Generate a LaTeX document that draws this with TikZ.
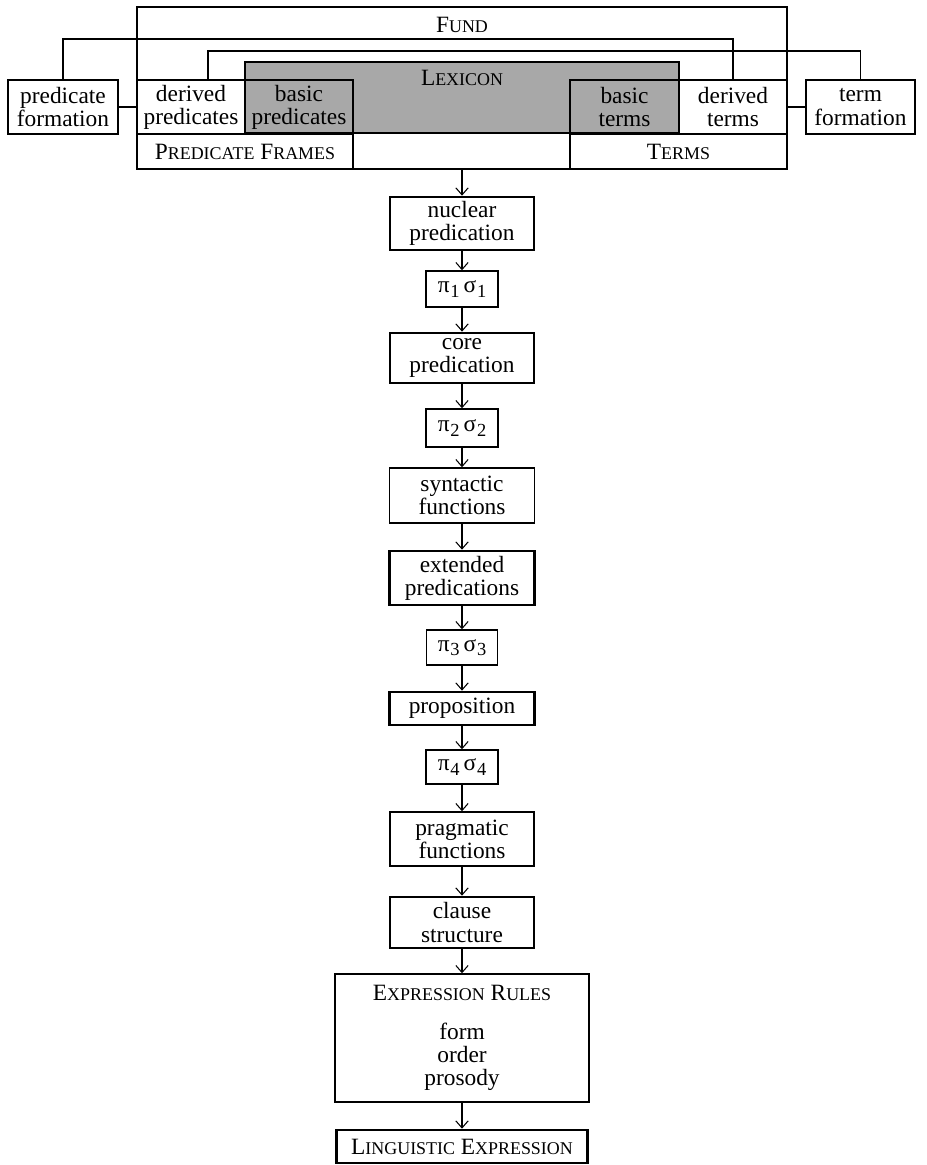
\documentclass[tikz,border=0pt]{standalone}
\usepackage{fontspec}
\setmainfont{Liberation Serif}
\usetikzlibrary{arrows.meta,calc}
\newcommand{\smc}[2]{#1{\fontsize{10.2}{10}\selectfont #2}}
\newcommand{\ps}[1]{π\kern0.5pt\raisebox{-0.4ex}{\fontsize{10.5}{10}\selectfont #1}\,σ\kern0.5pt\raisebox{-0.4ex}{\fontsize{10.5}{10}\selectfont #1}}

\begin{document}
\begin{tikzpicture}[x=0.02cm,y=-0.02cm,>={Straight Barb[length=4pt,width=7pt]},
  font=\fontsize{13.3}{13.2}\selectfont,
  wh/.style 2 args={minimum width=#1*0.02cm,minimum height=#2*0.02cm},
  box/.style={draw,inner sep=0pt,align=center,line width=0.8pt},
  bold/.style={box,line width=1.5pt},
  flow/.style={->,line width=0.6pt}]
  \useasboundingbox (0,0) rectangle (926,1165);
  % fund with lexicon
  \node[bold,wh={650}{162}] (fund) at (462,88) {};
  \node (fundlbl) at (462,25) {\smc{F}{UND}};
  \node[box,fill=gray!68,wh={434}{71}] (lex) at (462,97.5) {};
  \node (lexlbl) at (462,78) {\smc{L}{EXICON}};
  \node[box,wh={108}{54}] (dpred) at (191,107) {derived\\predicates};
  \node[box,wh={108}{54}] (bpred) at (299,107) {basic\\predicates};
  \node[box,wh={216}{35}] (pfr) at (245,151.5) {\smc{P}{REDICATE} \smc{F}{RAMES}};
  \node[box,wh={109}{54}] (bterm) at (624.5,107) {basic\\terms};
  \node[box,wh={108}{54}] (dterm) at (733,107) {derived\\terms};
  \node[box,wh={217}{35}] (terms) at (678.5,151.5) {\smc{T}{ERMS}};
  \node[box,wh={110}{54}] (pform) at (63,107) {predicate\\formation};
  \node[box,wh={109}{54}] (tform) at (860.5,107) {term\\formation};
  \coordinate (r1) at (0,39);
  \coordinate (r2) at (0,51);
  \draw[line width=0.6pt] (pform.east) -- (pform.east -| fund.west);
  \draw[line width=0.6pt] (tform.west) -- (tform.west -| fund.east);
  \draw[line width=0.6pt] (pform.north) |- (dterm.north |- r1) -- (dterm.north);
  \draw[line width=0.6pt] ($(dpred.north)+(17,0)$) |- (tform.north |- r2) -- (tform.north);

  % derivation chain
  \node[bold,wh={144}{53}] (nuc) at (462,223.5) {nuclear\\predication};
  \node[box,wh={72}{36}] (ps1) at (462,289) {\ps{1}};
  \node[bold,wh={144}{50}] (core) at (462,358) {core\\predication};
  \node[box,wh={72}{38}] (ps2) at (462,428) {\ps{2}};
  \node[box,wh={145}{55}] (synt) at (462,495.5) {syntactic\\functions};
  \node[bold,wh={145}{54}] (ext) at (462,578) {extended\\predications};
  \node[box,wh={71}{35}] (ps3) at (462,647.5) {\ps{3}};
  \node[bold,wh={145}{33}] (prop) at (462,708.5) {proposition};
  \node[box,wh={72}{34}] (ps4) at (462,767) {\ps{4}};
  \node[box,wh={144}{54}] (prag) at (462,839) {pragmatic\\functions};
  \node[bold,wh={144}{51}] (clause) at (462,922.5) {clause\\structure};
  \node[box,wh={254}{128}] (exprules) at (462,1038) {\smc{E}{XPRESSION} \smc{R}{ULES}\\[9pt]form\\order\\prosody};
  \node[bold,wh={251}{33}] (lingexp) at (462,1146.5) {\smc{L}{INGUISTIC} \smc{E}{XPRESSION}};

  \draw[flow] (fund) -- (nuc);
  \draw[flow] (nuc) -- (ps1);
  \draw[flow] (ps1) -- (core);
  \draw[flow] (core) -- (ps2);
  \draw[flow] (ps2) -- (synt);
  \draw[flow] (synt) -- (ext);
  \draw[flow] (ext) -- (ps3);
  \draw[flow] (ps3) -- (prop);
  \draw[flow] (prop) -- (ps4);
  \draw[flow] (ps4) -- (prag);
  \draw[flow] (prag) -- (clause);
  \draw[flow] (clause) -- (exprules);
  \draw[flow] (exprules) -- (lingexp);
\end{tikzpicture}
\end{document}
